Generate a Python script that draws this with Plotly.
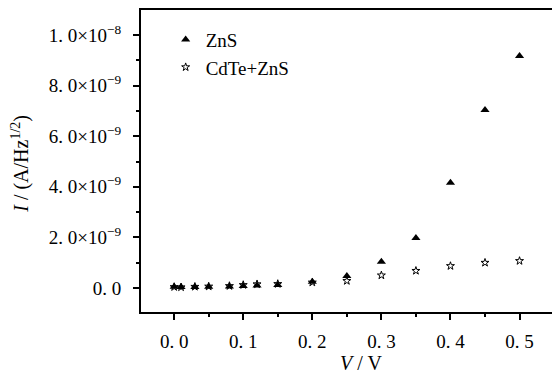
import plotly.graph_objects as go

# Data
v_vals = [0.0, 0.01, 0.03, 0.05, 0.08, 0.10, 0.12, 0.15, 0.20, 0.25, 0.30, 0.35, 0.40, 0.45, 0.50]
zns = [0.05e-9, 0.04e-9, 0.04e-9, 0.05e-9, 0.06e-9, 0.08e-9, 0.10e-9, 0.12e-9, 0.25e-9, 0.47e-9,
       1.04e-9, 1.98e-9, 4.16e-9, 7.04e-9, 9.17e-9]
cdte_zns = [0.04e-9, 0.03e-9, 0.05e-9, 0.06e-9, 0.08e-9, 0.12e-9, 0.15e-9, 0.16e-9, 0.22e-9, 0.28e-9,
            0.50e-9, 0.68e-9, 0.87e-9, 1.00e-9, 1.07e-9]

x_tickvals = [0.0, 0.1, 0.2, 0.3, 0.4, 0.5]
x_ticktext = ["0. 0", "0. 1", "0. 2", "0. 3", "0. 4", "0. 5"]
y_tickvals = [0.0, 2e-9, 4e-9, 6e-9, 8e-9, 1e-8]
y_ticktext = ["0. 0", "2. 0×10<sup>−9</sup>", "4. 0×10<sup>−9</sup>", "6. 0×10<sup>−9</sup>",
              "8. 0×10<sup>−9</sup>", "1. 0×10<sup>−8</sup>"]

FONT = "Liberation Serif"

fig = go.Figure()
fig.add_trace(go.Scatter(
    x=v_vals, y=zns, mode="markers", name="ZnS",
    marker=dict(symbol="triangle-up", size=8, color="black"),
))
fig.add_trace(go.Scatter(
    x=v_vals, y=cdte_zns, mode="markers", name="CdTe+ZnS",
    marker=dict(symbol="star-open", size=6, color="black", line=dict(width=1, color="black")),
))

fig.update_layout(
    width=552, height=376,
    margin=dict(l=141, r=0, t=10, b=64),
    paper_bgcolor="white", plot_bgcolor="white",
    font=dict(family=FONT, size=19, color="black"),
    showlegend=True,
    legend=dict(x=0.06, y=0.965, xanchor="left", yanchor="top",
                bgcolor="rgba(0,0,0,0)", font=dict(family=FONT, size=19),
                itemwidth=30, tracegroupgap=2),
    xaxis=dict(
        range=[-0.048, 0.547],
        tickvals=x_tickvals, ticktext=x_ticktext,
        ticks="outside", ticklen=6, tickwidth=1.5, tickcolor="black",
        minor=dict(dtick=0.05, tick0=0, ticks="outside", ticklen=3, tickwidth=1.5, tickcolor="black"),
        showline=True, linewidth=2, linecolor="black", mirror=True,
        showgrid=False, zeroline=False,
        tickfont=dict(family=FONT, size=19),
        ticklabelstandoff=5,
    ),
    yaxis=dict(
        range=[-0.95e-9, 1.099e-8],
        tickvals=y_tickvals, ticktext=y_ticktext,
        ticks="outside", ticklen=6, tickwidth=1.5, tickcolor="black",
        minor=dict(dtick=1e-9, tick0=0, ticks="outside", ticklen=3, tickwidth=1.5, tickcolor="black"),
        showline=True, linewidth=2, linecolor="black", mirror=False,
        showgrid=False, zeroline=False,
        tickfont=dict(family=FONT, size=19),
        ticklabelstandoff=8,
    ),
    annotations=[
        dict(text="<i>I</i> / (A/Hz<sup>1/2</sup>)", xref="paper", yref="paper",
             x=-0.295, y=0.49, textangle=-90, showarrow=False,
             xanchor="center", yanchor="middle", font=dict(family=FONT, size=20)),
        dict(text="<i>V</i> / V", xref="paper", yref="paper",
             x=0.535, y=-0.17, showarrow=False,
             xanchor="center", yanchor="middle", font=dict(family=FONT, size=20)),
    ],
)

fig.write_html("out.html")
